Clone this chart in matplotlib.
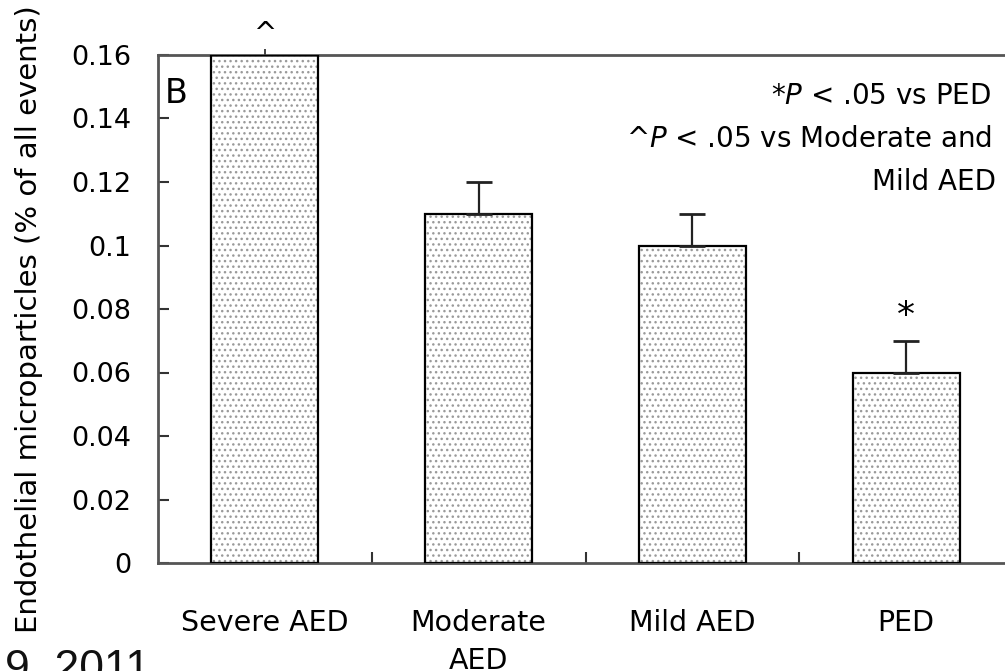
import matplotlib
matplotlib.use("Agg")
import matplotlib.pyplot as plt
from matplotlib.ticker import FixedLocator

plt.rcParams["font.family"] = ["DejaVu Sans"]
plt.rcParams["mathtext.fontset"] = "dejavusans"

# Data
groups = ["Severe AED", "Moderate\nAED", "Mild AED", "PED"]
means = [0.16, 0.11, 0.10, 0.06]
upper_err = [0.002, 0.01, 0.01, 0.01]
yticks = [0, 0.02, 0.04, 0.06, 0.08, 0.10, 0.12, 0.14, 0.16]
ytick_labels = ["0", "0.02", "0.04", "0.06", "0.08", "0.1", "0.12", "0.14", "0.16"]
marks = ["^", "", "", "*"]

fig = plt.figure(figsize=(10.05, 6.71), dpi=100)
ax = fig.add_axes([158 / 1005, 108 / 671, 855 / 1005, 508 / 671])

x = list(range(len(groups)))
width = 0.5

# dotted fill, then black outlines on top
ax.bar(x, means, width=width, color="white", edgecolor="#9a9a9a",
       hatch="...", linewidth=0, zorder=2)
ax.bar(x, means, width=width, color="none", edgecolor="black",
       linewidth=1.6, zorder=3)

# upper error bars
ax.errorbar(x[1:], means[1:], yerr=[[0] * 3, upper_err[1:]], fmt="none",
            ecolor="#222222", elinewidth=1.6, capsize=9.5, capthick=2,
            zorder=4)
ax.errorbar(x[:1], means[:1], yerr=[[0], upper_err[:1]], fmt="none",
            ecolor="#444444", elinewidth=1.4, capsize=0, zorder=4,
            clip_on=False)

ax.set_xlim(-0.5, 3.5)
ax.set_ylim(0, 0.16)

ax.set_yticks(yticks)
ax.set_yticklabels(ytick_labels, fontsize=19.5)
ax.tick_params(axis="y", direction="in", length=8, width=1.5, pad=19,
               color="#333333")

ax.set_xticks(x)
ax.set_xticklabels(groups, fontsize=20.5, linespacing=1.45, va="top")
ax.tick_params(axis="x", which="major", length=0, pad=33)
ax.xaxis.set_minor_locator(FixedLocator([0.5, 1.5, 2.5]))
ax.tick_params(axis="x", which="minor", direction="in", length=8,
               width=1.5, color="#333333")

for side in ["left", "top", "bottom"]:
    ax.spines[side].set_linewidth(2)
    ax.spines[side].set_color("#555555")
ax.spines["right"].set_visible(False)

# significance marks above bars
for xi, m, val, err in zip(x, marks, means, upper_err):
    if m == "^":
        ax.text(xi, 0.1665, m, ha="center", va="center", fontsize=20,
                clip_on=False)
    elif m == "*":
        ax.text(xi, val + err + 0.0078, m, ha="center", va="center",
                fontsize=26)

ax.text(-0.47, 0.148, "B", fontsize=24, ha="left", va="center")

ax.text(3.4, 0.1447, "*$\\mathit{P}$ < .05 vs PED", fontsize=20,
        ha="right", va="baseline")
ax.text(3.4, 0.1311, "^$\\mathit{P}$ < .05 vs Moderate and", fontsize=20,
        ha="right", va="baseline")
ax.text(3.42, 0.1174, "Mild AED", fontsize=20, ha="right", va="baseline")

fig.text(29 / 1005, 1 - 319 / 671,
         "Endothelial microparticles (% of all events)",
         rotation=90, ha="center", va="center", fontsize=21)

fig.text(5 / 1005, 1 - 648 / 671, "9, 2011", fontsize=32,
         family="Liberation Sans", ha="left", va="top", color="#111111")

fig.savefig("out.png", dpi=100)
